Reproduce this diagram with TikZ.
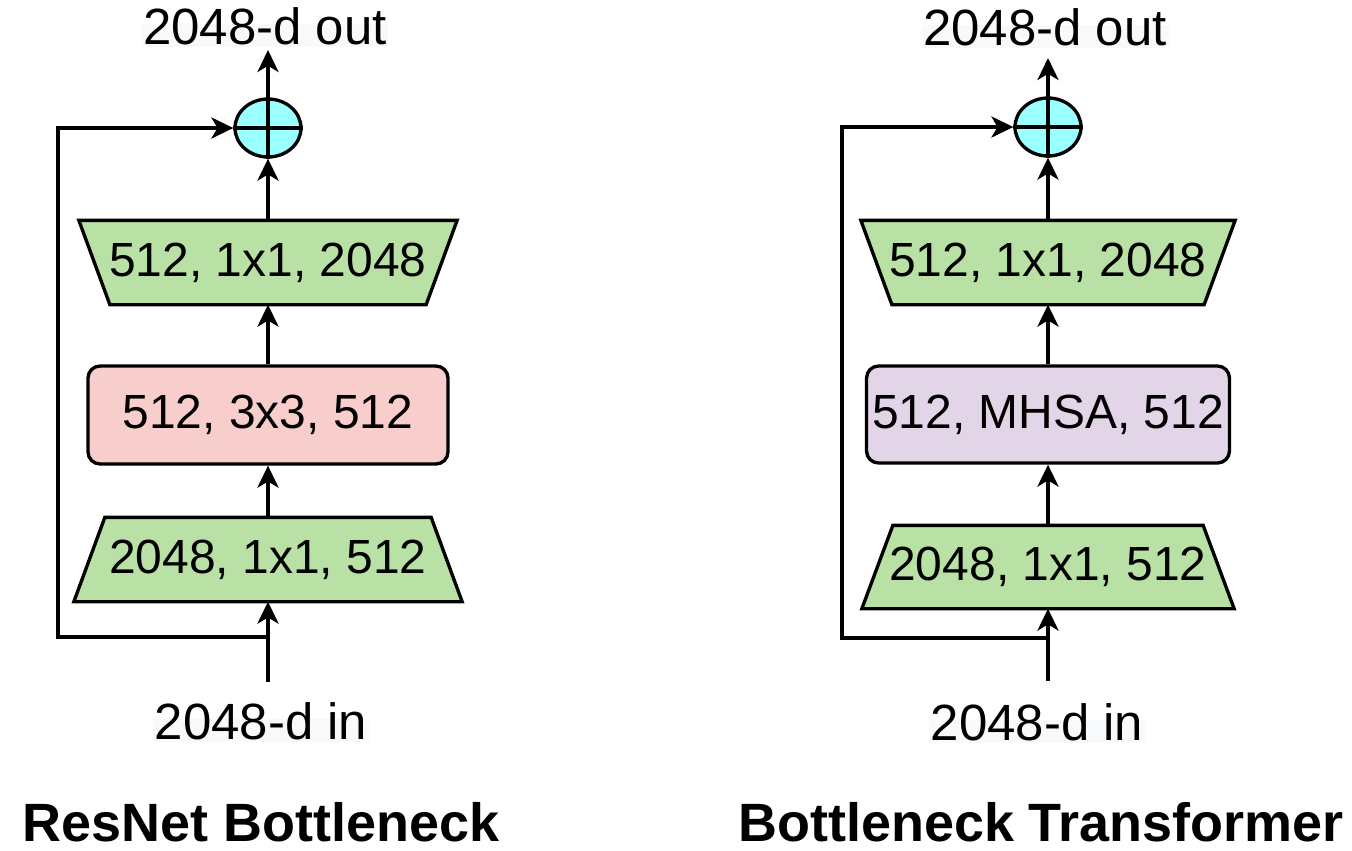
\documentclass[tikz,border=0pt]{standalone}
\usepackage{fontspec}
\setmainfont{Liberation Sans}
\usetikzlibrary{arrows.meta, shapes.geometric, backgrounds}

\definecolor{convgreen}{HTML}{B9E0A5}
\definecolor{midred}{HTML}{F8CECC}
\definecolor{midpurple}{HTML}{E1D5E7}
\definecolor{sumcyan}{HTML}{99FFFF}
\definecolor{lblbg}{HTML}{F8F9FA}

\begin{document}
\begin{tikzpicture}[x=0.02cm, y=-0.02cm, line width=1.9pt,
    wire/.style={line width=1.9pt},
    arr/.style={wire, -{Stealth[length=12.5pt, width=12pt, inset=3.5pt]}},
    trap/.style={wire, draw, fill=convgreen, line join=miter},
    conv/.style={minimum height=1.62cm, inner sep=0pt, font=\fontsize{27.3}{30}\selectfont},
    mid/.style={wire, draw, rounded corners=0.24cm, minimum width=7.2cm, minimum height=1.96cm,
        inner sep=0pt, font=\fontsize{27.3}{30}\selectfont},
    sum/.style={wire, draw, ellipse, fill=sumcyan, minimum width=1.32cm, minimum height=1.16cm, inner sep=0pt},
    lbl/.style={inner sep=0pt, font=\fontsize{29}{32}\selectfont},
    title/.style={inner sep=0pt, font=\fontsize{30.7}{34}\selectfont\bfseries}]
        \useasboundingbox (0,0) rectangle (1352,850);

        \def\slant{0.62cm}

        % ResNet bottleneck
        \coordinate (inA) at (268,682);
        \coordinate (splitA) at (268,637);
        \coordinate (cornerA) at (58,128);
        \coordinate (topA) at (268,50);
        \node[sum] (plusA) at (268,128) {};
        \node[conv, minimum width=7.5cm] (convA3) at (268,262.5) {512, 1x1, 2048};
        \node[mid, fill=midred] (midA) at (268,415) {512, 3x3, 512};
        \node[conv, minimum width=7.7cm] (convA1) at (268,559.5) {2048, 1x1, 512};
        \node[lbl] (outA) at (265,26) {2048-d out};
        \node[lbl] (inlblA) at (261,721) {2048-d in};
        \node[title] (titleA) at (261,822) {ResNet Bottleneck};

        % Bottleneck transformer
        \coordinate (inB) at (1048,681);
        \coordinate (splitB) at (1048,638);
        \coordinate (cornerB) at (842,127);
        \coordinate (topB) at (1048,58);
        \node[sum] (plusB) at (1048,127) {};
        \node[conv, minimum width=7.42cm] (convB3) at (1048,262.5) {512, 1x1, 2048};
        \node[mid, fill=midpurple, minimum width=7.26cm, minimum height=1.94cm] (midB) at (1048,414.5) {512, MHSA, 512};
        \node[conv, minimum width=7.38cm, minimum height=1.6cm] (convB1) at (1048,567) {2048, 1x1, 512};
        \node[lbl] (outB) at (1045,27) {2048-d out};
        \node[lbl] (inlblB) at (1037,722) {2048-d in};
        \node[title] (titleB) at (1041,822) {Bottleneck Transformer};

        \begin{pgfonlayer}{background}
            \foreach \c in {A,B} {
                \draw[trap] (conv\c3.north west) -- (conv\c3.north east)
                    -- ([xshift=-\slant]conv\c3.south east) -- ([xshift=\slant]conv\c3.south west) -- cycle;
                \draw[trap] ([xshift=\slant]conv\c1.north west) -- ([xshift=-\slant]conv\c1.north east)
                    -- (conv\c1.south east) -- (conv\c1.south west) -- cycle;
                \fill[lblbg] ([yshift=-0.06cm]out\c.base west) rectangle ([yshift=0.4cm]out\c.base east);
                \fill[lblbg] ([yshift=-0.06cm]inlbl\c.base west) rectangle ([yshift=0.4cm]inlbl\c.base east);
            }
        \end{pgfonlayer}

        \foreach \c in {A,B} {
            \draw[wire] (plus\c.north) -- (plus\c.south) (plus\c.west) -- (plus\c.east);
            \draw[arr] (in\c) -- (conv\c1.south);
            \draw[arr] (split\c) -| (corner\c) -- (plus\c.west);
            \draw[arr] (conv\c1.north) -- (mid\c.south);
            \draw[arr] (mid\c.north) -- (conv\c3.south);
            \draw[arr] (conv\c3.north) -- (plus\c.south);
            \draw[arr] (plus\c.north) -- (top\c);
        }

    \end{tikzpicture}
\end{document}
